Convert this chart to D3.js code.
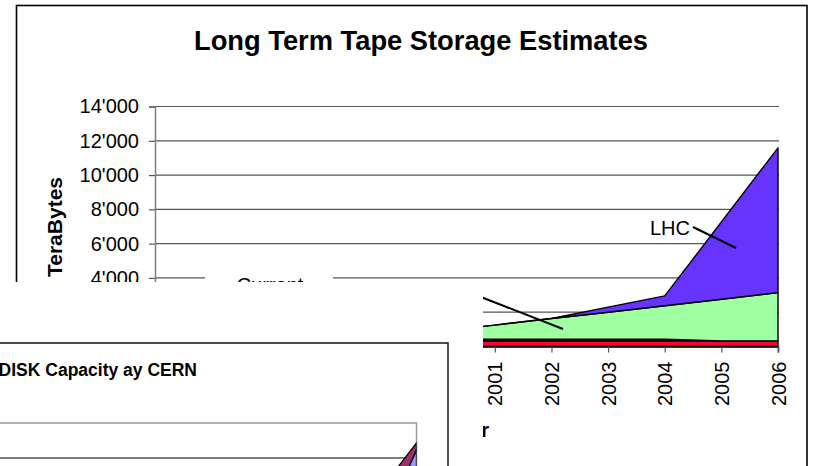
<!DOCTYPE html>
<html>
<head>
<meta charset="utf-8">
<script src="https://cdn.jsdelivr.net/npm/d3@7"></script>
<style>
  html, body { margin: 0; padding: 0; background: #fff; }
  svg { display: block; font-family: "Liberation Sans", Arial, sans-serif; }
</style>
</head>
<body>
<svg id="chart" width="814" height="466"></svg>
<script>
// ---------- data: Long Term Tape Storage Estimates (TeraBytes) ----------
const years = ["1995","1996","1997","1998","1999","2000","2001","2002","2003","2004","2005","2006"];
const currentTape = [330, 330, 330, 330, 330, 330, 330, 330, 330, 330, 330, 330];
const otherTape   = [90, 90, 90, 90, 90, 90, 90, 90, 90, 90, 0, 0];
const nonLhcTape  = [0, 0, 50, 120, 250, 460, 830, 1210, 1580, 1960, 2430, 2810];
const lhcTape     = [0, 0, 0, 0, 0, 0, 0, 0, 300, 570, 4500, 8450];
const yTicks = [0, 2000, 4000, 6000, 8000, 10000, 12000, 14000];
const seriesKeys = ["current", "other", "nonlhc", "lhc"];
const seriesColors = ["#ff0033", "#000000", "#a0ffa0", "#6633ff"];

// ---------- data: DISK Capacity ay CERN (visible corner only) ----------
const diskYears = ["2005", "2006"];
const diskLower = [430, 623];
const diskUpper = [100, 20];
const diskTicks = [600, 700];
const diskColors = ["#9999ff", "#993366"];

const svg = d3.select("#chart");
const fmt = v => d3.format(",")(v).replace(/,/g, "'");

// ---------- main chart ----------
svg.append("rect").attr("x", 16.5).attr("y", 5.5).attr("width", 790.5).attr("height", 520)
  .attr("fill", "#fff").attr("stroke", "#000").attr("stroke-width", 1.6);

const x = d3.scalePoint().domain(years).range([155, 778]);
const y = d3.scaleLinear().domain([0, 14000]).range([346.5, 106.5]);

const g = svg.append("g");

// gridlines
g.selectAll("line.grid").data(yTicks.filter(d => d > 0)).join("line")
  .attr("x1", 155).attr("x2", 779)
  .attr("y1", d => y(d)).attr("y2", d => y(d))
  .attr("stroke", "#555").attr("stroke-width", 1.2);

// stacked areas
const table = years.map((yr, i) => ({
  year: yr, current: currentTape[i], other: otherTape[i], nonlhc: nonLhcTape[i], lhc: lhcTape[i]
}));
const stack = d3.stack().keys(seriesKeys)(table);
const area = d3.area().x(d => x(d.data.year)).y0(d => y(d[0])).y1(d => y(d[1]));
g.selectAll("path.layer").data(stack).join("path")
  .attr("d", area)
  .attr("fill", (d, i) => seriesColors[i])
  .attr("stroke", "#000").attr("stroke-width", 1.4).attr("stroke-linejoin", "round");

// y axis
const yAxis = d3.axisLeft(y).tickValues(yTicks).tickFormat(fmt).tickSize(6).tickPadding(10);
const ya = g.append("g").attr("transform", "translate(155,0)").call(yAxis);
ya.select(".domain").attr("stroke", "#808080").attr("stroke-width", 1.5);
ya.selectAll(".tick line").attr("stroke", "#555").attr("stroke-width", 1.2);
ya.selectAll(".tick text").attr("font-size", 20).attr("fill", "#000")
  .attr("font-family", "'Liberation Sans', Arial, sans-serif");

// x axis
const xAxis = d3.axisBottom(x).tickSize(6).tickPadding(4);
const xa = g.append("g").attr("transform", "translate(0,346.5)").call(xAxis);
xa.select(".domain").attr("stroke", "#000").attr("stroke-width", 1.5);
xa.selectAll(".tick line").attr("stroke", "#555").attr("stroke-width", 1.2);
xa.selectAll(".tick text")
  .attr("font-size", 20).attr("fill", "#000")
  .attr("font-family", "'Liberation Sans', Arial, sans-serif")
  .attr("text-anchor", "end").attr("dy", "0.35em")
  .attr("transform", "translate(0,15) rotate(-90)")
  .attr("x", 0).attr("y", 0);

// title
svg.append("text").attr("x", 421).attr("y", 50).attr("text-anchor", "middle")
  .attr("font-size", 27.3).attr("font-weight", "bold").text("Long Term Tape Storage Estimates");

// y title
svg.append("text").attr("transform", "translate(62,227) rotate(-90)")
  .attr("text-anchor", "middle").attr("font-size", 21).attr("font-weight", "bold").text("TeraBytes");

// x title
svg.append("text").attr("x", 467).attr("y", 437).attr("text-anchor", "middle")
  .attr("font-size", 21).attr("font-weight", "bold").text("Year");

// labels
svg.append("rect").attr("x", 205).attr("y", 268).attr("width", 128).attr("height", 30).attr("fill", "#fff");
svg.append("text").attr("x", 270).attr("y", 291.5).attr("text-anchor", "middle")
  .attr("font-size", 20).text("Current");
svg.append("line").attr("x1", x("2000") + 30).attr("y1", 292).attr("x2", 563).attr("y2", 329)
  .attr("stroke", "#000").attr("stroke-width", 2);

svg.append("text").attr("x", 650).attr("y", 235).attr("font-size", 20).text("LHC");
svg.append("line").attr("x1", 693).attr("y1", 227).attr("x2", 736).attr("y2", 248)
  .attr("stroke", "#000").attr("stroke-width", 2);

// ---------- overlapping region (white) ----------
svg.append("rect").attr("x", 0).attr("y", 282).attr("width", 483).attr("height", 200).attr("fill", "#fff");

// ---------- DISK chart fragment ----------
svg.append("rect").attr("x", -20).attr("y", 343).attr("width", 468).attr("height", 200)
  .attr("fill", "#fff").attr("stroke", "#222").attr("stroke-width", 1.6);
svg.append("text").attr("x", 197).attr("y", 376).attr("text-anchor", "end")
  .attr("font-size", 17.5).attr("font-weight", "bold").text("DISK Capacity ay CERN");

const dx = d3.scalePoint().domain(diskYears).range([386, 416.5]);
const dy = d3.scaleLinear().domain([0, 700]).range([668, 423]);

const dg = svg.append("g");
dg.append("rect").attr("x", -20).attr("y", dy(700)).attr("width", 436.5).attr("height", 200)
  .attr("fill", "#fff").attr("stroke", "#999").attr("stroke-width", 1.5);
dg.selectAll("line.dgrid").data(diskTicks.filter(d => d < 700)).join("line")
  .attr("x1", -20).attr("x2", 416.5).attr("y1", d => dy(d)).attr("y2", d => dy(d))
  .attr("stroke", "#000").attr("stroke-width", 1.2);

const diskTable = diskYears.map((yr, i) => ({ year: yr, lower: diskLower[i], upper: diskUpper[i] }));
const diskStack = d3.stack().keys(["lower", "upper"])(diskTable);
const diskArea = d3.area().x(d => dx(d.data.year)).y0(d => dy(d[0])).y1(d => dy(d[1]));
dg.append("clipPath").attr("id", "dclip").append("rect")
  .attr("x", -20).attr("y", dy(700)).attr("width", 436.5).attr("height", 200);
dg.append("g").attr("clip-path", "url(#dclip)")
  .selectAll("path").data(diskStack).join("path")
  .attr("d", diskArea)
  .attr("fill", (d, i) => diskColors[i])
  .attr("stroke", "#000").attr("stroke-width", 1.3);
</script>
</body>
</html>
